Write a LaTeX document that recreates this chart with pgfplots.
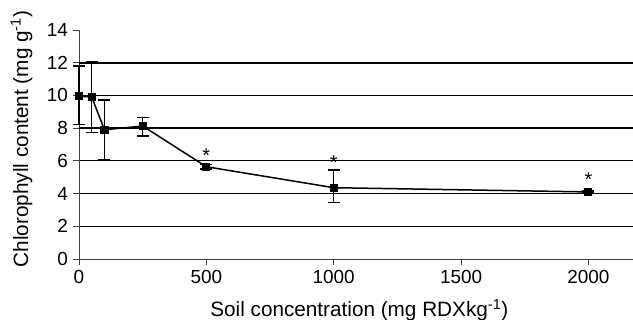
\documentclass[border=0pt]{standalone}
\usepackage{fontspec}
\setmainfont{Liberation Sans}
\usepackage{pgfplots}
\usepackage{pgfplotstable}
\pgfplotsset{compat=1.18}

% Chlorophyll content vs. soil RDX concentration: mean, upper and lower error
\pgfplotstableread{
x     y     ep    em
0     9.96  1.84  1.73
50    9.90  2.16  2.18
100   7.90  1.82  1.81
250   8.13  0.53  0.61
500   5.64  0.14  0.14
1000  4.36  1.08  0.92
2000  4.10  0.06  0.06
}\chltable

\begin{document}
\begin{tikzpicture}
\begin{axis}[
  scale only axis,
  width=554bp, height=229bp,
  xmin=0, xmax=2175,
  ymin=0, ymax=14,
  axis lines=left,
  axis line style={-, black!75, line width=0.9bp},
  clip=false,
  xtick={0,500,1000,1500,2000},
  ytick={0,2,...,14},
  % thin rules at 2, 4, 6
  minor ytick={2,4,6},
  minor tick length=0pt,
  yminorgrids,
  minor grid style={black, line width=0.9bp},
  % heavier rules at 8, 10, 12
  extra y ticks={8,10,12},
  extra y tick labels={},
  extra y tick style={ymajorgrids=true, major tick length=0pt,
    major grid style={black, line width=1.8bp}},
  tick align=outside,
  major tick length=5.5bp,
  tick style={black!75, line width=0.9bp},
  /pgf/number format/assume math mode=true,
  /pgf/number format/set thousands separator={},
  tick label style={font=\fontsize{19}{21}\selectfont},
  yticklabel style={xshift=-2bp},
  xticklabel style={yshift=-2bp},
  xlabel={Soil concentration (mg RDXkg\textsuperscript{-1})},
  ylabel={Chlorophyll content (mg g\textsuperscript{-1})},
  every axis x label/.style={at={(axis description cs:0.506,0)}, anchor=base,
    yshift=-57.7bp, inner sep=0pt, font=\fontsize{20.8}{23}\selectfont},
  every axis y label/.style={at={(axis description cs:-0.0836,0.524)}, rotate=90,
    anchor=south, inner sep=0pt, font=\fontsize{20.8}{23}\selectfont},
]
\addplot[black, line width=1.5bp, mark=square*, mark size=3.3bp,
  error bars/.cd, y dir=both, y explicit,
  error bar style={line width=1.3bp, black},
  error mark options={rotate=90, mark size=6bp, line width=1.3bp, black}]
  table[x=x, y=y, y error plus=ep, y error minus=em] {\chltable};

% significance markers
\node[anchor=base, inner sep=0pt, font=\fontsize{20}{22}\selectfont] at (axis cs:500,5.9) {*};
\node[anchor=base, inner sep=0pt, font=\fontsize{20}{22}\selectfont] at (axis cs:1000,5.45) {*};
\node[anchor=base, inner sep=0pt, font=\fontsize{20}{22}\selectfont] at (axis cs:2000,4.41) {*};
\end{axis}
\pgfresetboundingbox
\useasboundingbox (-79bp,-61bp) rectangle (554bp,259bp);
\end{tikzpicture}
\end{document}
